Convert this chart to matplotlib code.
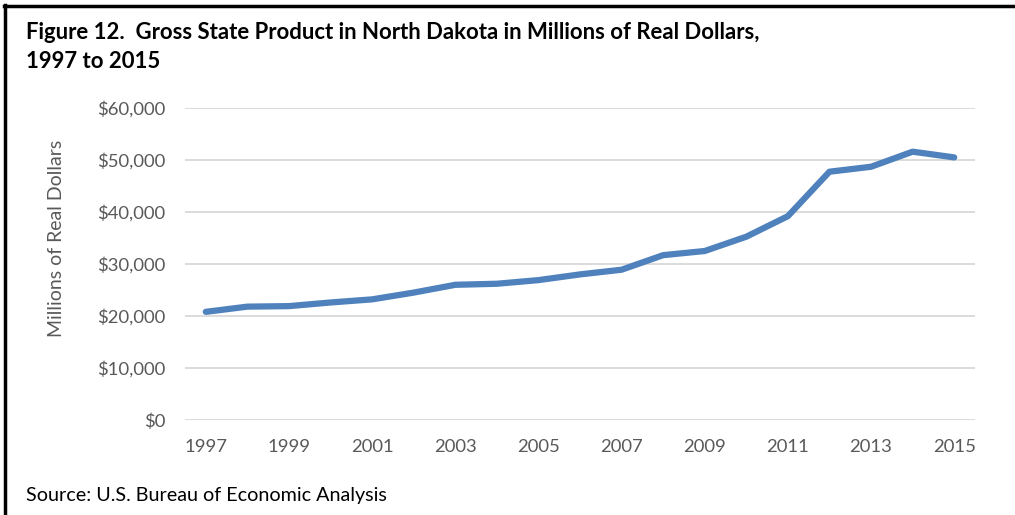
import matplotlib.pyplot as plt
from matplotlib.lines import Line2D
from matplotlib.ticker import FuncFormatter

plt.rcParams['font.family'] = ['Lato', 'DejaVu Sans']

# real GSP, millions of dollars
years = list(range(1997, 2016))
gsp = [20800, 21800, 21900, 22600, 23200, 24500, 26000, 26200, 26900, 28000,
       28900, 31700, 32500, 35250, 39200, 47750, 48700, 51600, 50500]
year_ticks = list(range(1997, 2016, 2))
y_ticks = [0, 10000, 20000, 30000, 40000, 50000, 60000]

fig = plt.figure(figsize=(10.15, 5.15), dpi=100)
ax = fig.add_axes([185/1015, 1-420/515, 790/1015, 312/515])

ax.plot(years, gsp, color='#4F81BD', lw=4.5, solid_capstyle='round', solid_joinstyle='round', zorder=3)

ax.set_xlim(1996.5, 2015.5)
ax.set_ylim(0, 60000)
ax.set_xticks(year_ticks)
ax.set_yticks(y_ticks)
ax.yaxis.set_major_formatter(FuncFormatter(lambda v, p: '${:,.0f}'.format(v)))
ax.grid(axis='y', color='#D9D9D9', lw=1.3, zorder=0)
for s in ax.spines.values():
    s.set_visible(False)
ax.tick_params(length=0, labelsize=13.3, colors='#595959')
ax.tick_params(axis='y', pad=14)
ax.tick_params(axis='x', pad=14)

fig.text(57/1015, 1-238/515, 'Millions of Real Dollars', fontsize=14, color='#595959',
         rotation=90, ha='center', va='center')

fig.text(26/1015, 1-47/515, 'Figure 12.  Gross State Product in North Dakota in Millions of Real Dollars,\n1997 to 2015',
         fontsize=15.9, fontweight='bold', color='black', va='center', linespacing=1.42)
fig.text(26/1015, 1-496/515, 'Source: U.S. Bureau of Economic Analysis', fontsize=14.2, color='black', va='center')

# frame lines at top and left
fig.add_artist(Line2D([5/1015, 5/1015], [0, 1-5/515], color='black', lw=2.5, transform=fig.transFigure))
fig.add_artist(Line2D([4/1015, 1], [1-6/515, 1-6/515], color='black', lw=2.5, transform=fig.transFigure))

fig.savefig('out.png', dpi=100)
